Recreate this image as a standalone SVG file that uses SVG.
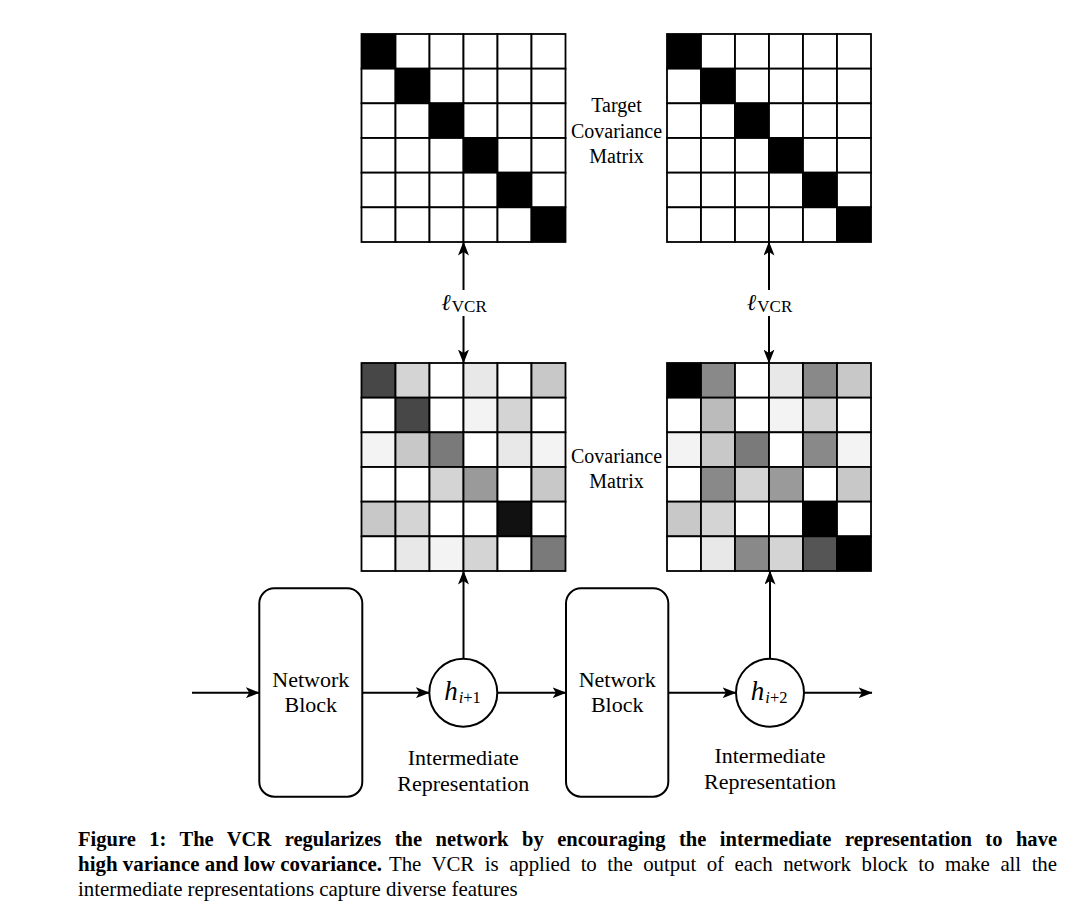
<svg xmlns="http://www.w3.org/2000/svg" width="1080" height="923" viewBox="0 0 1080 923">
<style>
.cell{stroke:#000;stroke-width:1.8}
.c0{fill:#fff}.c1{fill:#f3f3f3}.c2{fill:#e8e8e8}.c3{fill:#d4d4d4}.c4{fill:#c8c8c8}.c5{fill:#bbb}.c6{fill:#9a9a9a}.c7{fill:#898989}.c8{fill:#7a7a7a}.c9{fill:#555}.c10{fill:#474747}.c11{fill:#111}.c12{fill:#000}
.edge{stroke:#000;stroke-width:2;fill:none}
.box{fill:#fff;stroke:#000;stroke-width:2}
.lbl{font-family:"Liberation Serif",serif;font-size:22px;text-anchor:middle;fill:#000}
.mlbl{font-family:"Liberation Serif",serif;font-size:20px;text-anchor:middle;fill:#000}
.cap{font-family:"Liberation Serif",serif;font-size:20.9px;fill:#000}
.b{font-weight:bold;font-size:20.8px}
</style>
<defs>
<marker id="ah" viewBox="0 0 14 11" refX="13.5" refY="5.5" markerWidth="14" markerHeight="11" markerUnits="userSpaceOnUse" orient="auto-start-reverse"><path d="M0,0 L14,5.5 L0,11 L3.5,5.5 z" fill="#000"/></marker>
</defs>
<rect width="1080" height="923" fill="#fff"/>

<g id="target-matrix-1" transform="translate(361.5,34)">
<g class="cell">
<rect class="c12" x="0" y="0" width="34" height="34.67"/><rect class="c0" x="34" y="0" width="34" height="34.67"/><rect class="c0" x="68" y="0" width="34" height="34.67"/><rect class="c0" x="102" y="0" width="34" height="34.67"/><rect class="c0" x="136" y="0" width="34" height="34.67"/><rect class="c0" x="170" y="0" width="34" height="34.67"/>
<rect class="c0" x="0" y="34.67" width="34" height="34.67"/><rect class="c12" x="34" y="34.67" width="34" height="34.67"/><rect class="c0" x="68" y="34.67" width="34" height="34.67"/><rect class="c0" x="102" y="34.67" width="34" height="34.67"/><rect class="c0" x="136" y="34.67" width="34" height="34.67"/><rect class="c0" x="170" y="34.67" width="34" height="34.67"/>
<rect class="c0" x="0" y="69.33" width="34" height="34.67"/><rect class="c0" x="34" y="69.33" width="34" height="34.67"/><rect class="c12" x="68" y="69.33" width="34" height="34.67"/><rect class="c0" x="102" y="69.33" width="34" height="34.67"/><rect class="c0" x="136" y="69.33" width="34" height="34.67"/><rect class="c0" x="170" y="69.33" width="34" height="34.67"/>
<rect class="c0" x="0" y="104" width="34" height="34.67"/><rect class="c0" x="34" y="104" width="34" height="34.67"/><rect class="c0" x="68" y="104" width="34" height="34.67"/><rect class="c12" x="102" y="104" width="34" height="34.67"/><rect class="c0" x="136" y="104" width="34" height="34.67"/><rect class="c0" x="170" y="104" width="34" height="34.67"/>
<rect class="c0" x="0" y="138.67" width="34" height="34.67"/><rect class="c0" x="34" y="138.67" width="34" height="34.67"/><rect class="c0" x="68" y="138.67" width="34" height="34.67"/><rect class="c0" x="102" y="138.67" width="34" height="34.67"/><rect class="c12" x="136" y="138.67" width="34" height="34.67"/><rect class="c0" x="170" y="138.67" width="34" height="34.67"/>
<rect class="c0" x="0" y="173.33" width="34" height="34.67"/><rect class="c0" x="34" y="173.33" width="34" height="34.67"/><rect class="c0" x="68" y="173.33" width="34" height="34.67"/><rect class="c0" x="102" y="173.33" width="34" height="34.67"/><rect class="c0" x="136" y="173.33" width="34" height="34.67"/><rect class="c12" x="170" y="173.33" width="34" height="34.67"/>
</g>
</g>

<g id="target-matrix-2" transform="translate(667,34)">
<g class="cell">
<rect class="c12" x="0" y="0" width="34" height="34.67"/><rect class="c0" x="34" y="0" width="34" height="34.67"/><rect class="c0" x="68" y="0" width="34" height="34.67"/><rect class="c0" x="102" y="0" width="34" height="34.67"/><rect class="c0" x="136" y="0" width="34" height="34.67"/><rect class="c0" x="170" y="0" width="34" height="34.67"/>
<rect class="c0" x="0" y="34.67" width="34" height="34.67"/><rect class="c12" x="34" y="34.67" width="34" height="34.67"/><rect class="c0" x="68" y="34.67" width="34" height="34.67"/><rect class="c0" x="102" y="34.67" width="34" height="34.67"/><rect class="c0" x="136" y="34.67" width="34" height="34.67"/><rect class="c0" x="170" y="34.67" width="34" height="34.67"/>
<rect class="c0" x="0" y="69.33" width="34" height="34.67"/><rect class="c0" x="34" y="69.33" width="34" height="34.67"/><rect class="c12" x="68" y="69.33" width="34" height="34.67"/><rect class="c0" x="102" y="69.33" width="34" height="34.67"/><rect class="c0" x="136" y="69.33" width="34" height="34.67"/><rect class="c0" x="170" y="69.33" width="34" height="34.67"/>
<rect class="c0" x="0" y="104" width="34" height="34.67"/><rect class="c0" x="34" y="104" width="34" height="34.67"/><rect class="c0" x="68" y="104" width="34" height="34.67"/><rect class="c12" x="102" y="104" width="34" height="34.67"/><rect class="c0" x="136" y="104" width="34" height="34.67"/><rect class="c0" x="170" y="104" width="34" height="34.67"/>
<rect class="c0" x="0" y="138.67" width="34" height="34.67"/><rect class="c0" x="34" y="138.67" width="34" height="34.67"/><rect class="c0" x="68" y="138.67" width="34" height="34.67"/><rect class="c0" x="102" y="138.67" width="34" height="34.67"/><rect class="c12" x="136" y="138.67" width="34" height="34.67"/><rect class="c0" x="170" y="138.67" width="34" height="34.67"/>
<rect class="c0" x="0" y="173.33" width="34" height="34.67"/><rect class="c0" x="34" y="173.33" width="34" height="34.67"/><rect class="c0" x="68" y="173.33" width="34" height="34.67"/><rect class="c0" x="102" y="173.33" width="34" height="34.67"/><rect class="c0" x="136" y="173.33" width="34" height="34.67"/><rect class="c12" x="170" y="173.33" width="34" height="34.67"/>
</g>
</g>

<g id="cov-matrix-1" transform="translate(361.5,363)">
<g class="cell">
<rect class="c10" x="0" y="0" width="34" height="34.67"/><rect class="c3" x="34" y="0" width="34" height="34.67"/><rect class="c0" x="68" y="0" width="34" height="34.67"/><rect class="c2" x="102" y="0" width="34" height="34.67"/><rect class="c0" x="136" y="0" width="34" height="34.67"/><rect class="c4" x="170" y="0" width="34" height="34.67"/>
<rect class="c0" x="0" y="34.67" width="34" height="34.67"/><rect class="c10" x="34" y="34.67" width="34" height="34.67"/><rect class="c0" x="68" y="34.67" width="34" height="34.67"/><rect class="c1" x="102" y="34.67" width="34" height="34.67"/><rect class="c3" x="136" y="34.67" width="34" height="34.67"/><rect class="c0" x="170" y="34.67" width="34" height="34.67"/>
<rect class="c1" x="0" y="69.33" width="34" height="34.67"/><rect class="c4" x="34" y="69.33" width="34" height="34.67"/><rect class="c8" x="68" y="69.33" width="34" height="34.67"/><rect class="c0" x="102" y="69.33" width="34" height="34.67"/><rect class="c2" x="136" y="69.33" width="34" height="34.67"/><rect class="c1" x="170" y="69.33" width="34" height="34.67"/>
<rect class="c0" x="0" y="104" width="34" height="34.67"/><rect class="c0" x="34" y="104" width="34" height="34.67"/><rect class="c3" x="68" y="104" width="34" height="34.67"/><rect class="c6" x="102" y="104" width="34" height="34.67"/><rect class="c0" x="136" y="104" width="34" height="34.67"/><rect class="c4" x="170" y="104" width="34" height="34.67"/>
<rect class="c4" x="0" y="138.67" width="34" height="34.67"/><rect class="c3" x="34" y="138.67" width="34" height="34.67"/><rect class="c0" x="68" y="138.67" width="34" height="34.67"/><rect class="c0" x="102" y="138.67" width="34" height="34.67"/><rect class="c11" x="136" y="138.67" width="34" height="34.67"/><rect class="c0" x="170" y="138.67" width="34" height="34.67"/>
<rect class="c0" x="0" y="173.33" width="34" height="34.67"/><rect class="c2" x="34" y="173.33" width="34" height="34.67"/><rect class="c1" x="68" y="173.33" width="34" height="34.67"/><rect class="c3" x="102" y="173.33" width="34" height="34.67"/><rect class="c0" x="136" y="173.33" width="34" height="34.67"/><rect class="c8" x="170" y="173.33" width="34" height="34.67"/>
</g>
</g>

<g id="cov-matrix-2" transform="translate(667,363)">
<g class="cell">
<rect class="c12" x="0" y="0" width="34" height="34.67"/><rect class="c7" x="34" y="0" width="34" height="34.67"/><rect class="c0" x="68" y="0" width="34" height="34.67"/><rect class="c2" x="102" y="0" width="34" height="34.67"/><rect class="c7" x="136" y="0" width="34" height="34.67"/><rect class="c4" x="170" y="0" width="34" height="34.67"/>
<rect class="c0" x="0" y="34.67" width="34" height="34.67"/><rect class="c5" x="34" y="34.67" width="34" height="34.67"/><rect class="c0" x="68" y="34.67" width="34" height="34.67"/><rect class="c1" x="102" y="34.67" width="34" height="34.67"/><rect class="c3" x="136" y="34.67" width="34" height="34.67"/><rect class="c0" x="170" y="34.67" width="34" height="34.67"/>
<rect class="c1" x="0" y="69.33" width="34" height="34.67"/><rect class="c4" x="34" y="69.33" width="34" height="34.67"/><rect class="c8" x="68" y="69.33" width="34" height="34.67"/><rect class="c0" x="102" y="69.33" width="34" height="34.67"/><rect class="c7" x="136" y="69.33" width="34" height="34.67"/><rect class="c1" x="170" y="69.33" width="34" height="34.67"/>
<rect class="c0" x="0" y="104" width="34" height="34.67"/><rect class="c7" x="34" y="104" width="34" height="34.67"/><rect class="c3" x="68" y="104" width="34" height="34.67"/><rect class="c6" x="102" y="104" width="34" height="34.67"/><rect class="c0" x="136" y="104" width="34" height="34.67"/><rect class="c4" x="170" y="104" width="34" height="34.67"/>
<rect class="c4" x="0" y="138.67" width="34" height="34.67"/><rect class="c3" x="34" y="138.67" width="34" height="34.67"/><rect class="c0" x="68" y="138.67" width="34" height="34.67"/><rect class="c0" x="102" y="138.67" width="34" height="34.67"/><rect class="c12" x="136" y="138.67" width="34" height="34.67"/><rect class="c0" x="170" y="138.67" width="34" height="34.67"/>
<rect class="c0" x="0" y="173.33" width="34" height="34.67"/><rect class="c2" x="34" y="173.33" width="34" height="34.67"/><rect class="c7" x="68" y="173.33" width="34" height="34.67"/><rect class="c3" x="102" y="173.33" width="34" height="34.67"/><rect class="c9" x="136" y="173.33" width="34" height="34.67"/><rect class="c12" x="170" y="173.33" width="34" height="34.67"/>
</g>
</g>

<g id="matrix-labels">
<text class="mlbl" x="616.5" y="111.5">Target</text>
<text class="mlbl" x="616.5" y="137.5">Covariance</text>
<text class="mlbl" x="616.5" y="163">Matrix</text>
<text class="mlbl" x="616.5" y="462.5">Covariance</text>
<text class="mlbl" x="616.5" y="488">Matrix</text>
</g>

<g id="connectors">
<line class="edge" x1="192" y1="692.7" x2="259.3" y2="692.7" marker-end="url(#ah)"/>
<line class="edge" x1="362.3" y1="692.7" x2="429.3" y2="692.7" marker-end="url(#ah)"/>
<line class="edge" x1="497.3" y1="692.7" x2="566" y2="692.7" marker-end="url(#ah)"/>
<line class="edge" x1="668.3" y1="692.7" x2="736" y2="692.7" marker-end="url(#ah)"/>
<line class="edge" x1="804" y1="692.7" x2="872" y2="692.7" marker-end="url(#ah)"/>
<line class="edge" x1="463.5" y1="658.7" x2="463.5" y2="571" marker-end="url(#ah)"/>
<line class="edge" x1="770" y1="658.7" x2="770" y2="571" marker-end="url(#ah)"/>
<line class="edge" x1="463.5" y1="242" x2="463.5" y2="363" marker-start="url(#ah)" marker-end="url(#ah)"/>
<line class="edge" x1="769" y1="242" x2="769" y2="363" marker-start="url(#ah)" marker-end="url(#ah)"/>
<rect x="437" y="290" width="54" height="26" fill="#fff"/>
<rect x="742" y="290" width="54" height="26" fill="#fff"/>
<text x="464" y="310" text-anchor="middle" font-family="'Liberation Serif',serif"><tspan font-family="'DejaVu Serif',serif" font-style="italic" font-size="23">ℓ</tspan><tspan font-size="17" dx="1" dy="2">VCR</tspan></text>
<text x="769.5" y="310" text-anchor="middle" font-family="'Liberation Serif',serif"><tspan font-family="'DejaVu Serif',serif" font-style="italic" font-size="23">ℓ</tspan><tspan font-size="17" dx="1" dy="2">VCR</tspan></text>
</g>

<g id="network-block-1">
<rect class="box" x="259.3" y="588.3" width="103" height="208.4" rx="15" ry="15"/>
<text class="lbl" x="310.8" y="687">Network</text>
<text class="lbl" x="310.8" y="712">Block</text>
</g>

<g id="h-i1">
<circle class="box" cx="463.3" cy="692.7" r="34"/>
<text x="462.5" y="700" text-anchor="middle" font-family="'Liberation Serif',serif"><tspan font-style="italic" font-size="27">h</tspan><tspan font-style="italic" font-size="16.5" dx="1" dy="3">i</tspan><tspan font-size="16.5">+1</tspan></text>
<text class="lbl" x="463.3" y="765">Intermediate</text>
<text class="lbl" x="463.3" y="791">Representation</text>
</g>

<g id="network-block-2">
<rect class="box" x="566" y="588.3" width="102.3" height="208.4" rx="15" ry="15"/>
<text class="lbl" x="617.2" y="687">Network</text>
<text class="lbl" x="617.2" y="712">Block</text>
</g>

<g id="h-i2">
<circle class="box" cx="770" cy="692.7" r="34"/>
<text x="769.2" y="700" text-anchor="middle" font-family="'Liberation Serif',serif"><tspan font-style="italic" font-size="27">h</tspan><tspan font-style="italic" font-size="16.5" dx="1" dy="3">i</tspan><tspan font-size="16.5">+2</tspan></text>
<text class="lbl" x="770" y="763">Intermediate</text>
<text class="lbl" x="770" y="789">Representation</text>
</g>

<g id="caption">
<text class="cap b" x="78" y="846" word-spacing="8.5" textLength="979" lengthAdjust="spacingAndGlyphs">Figure 1:  The VCR regularizes the network by encouraging the intermediate representation to have</text>
<text class="cap b" x="78" y="871" textLength="304" lengthAdjust="spacingAndGlyphs">high variance and low covariance.</text>
<text class="cap" x="389" y="871" word-spacing="5.5" textLength="668" lengthAdjust="spacing">The VCR is applied to the output of each network block to make all the</text>
<text class="cap" x="78" y="896">intermediate representations capture diverse features</text>
</g>
</svg>
